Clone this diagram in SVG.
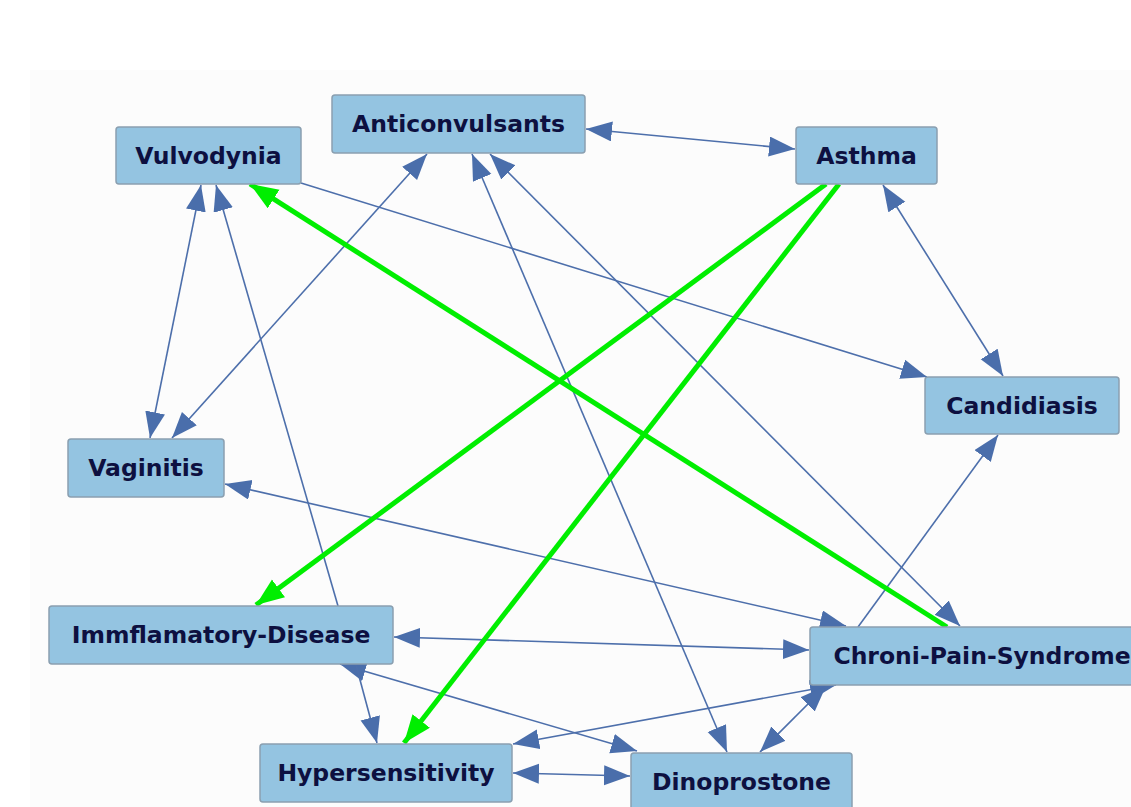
<svg xmlns="http://www.w3.org/2000/svg" width="1131" height="807" viewBox="0 0 1131 807">
  <style>
    .node rect { fill: #94c4e1; stroke: #8a9fb0; stroke-width: 1.5; }
    .node text { font-family: "DejaVu Sans", "Liberation Sans", sans-serif; font-weight: bold; font-size: 23.5px; fill: #0d1040; text-anchor: middle; dominant-baseline: central; }
    .edge { stroke: #4d6fab; stroke-width: 1.6; fill: none; }
    .both { marker-start: url(#head); marker-end: url(#head); }
    .one { marker-end: url(#head); }
    .hi { stroke: #00ee00; stroke-width: 5; fill: none; marker-end: url(#headGreen); }
  </style>
  <defs>
    <marker id="head" markerUnits="userSpaceOnUse" markerWidth="28" markerHeight="22" refX="26" refY="10" orient="auto-start-reverse">
      <path d="M0,0 L26,10 L0,20 Z" fill="#4a6eab"/>
    </marker>
    <marker id="headGreen" markerUnits="userSpaceOnUse" markerWidth="32" markerHeight="24" refX="28" refY="11" orient="auto">
      <path d="M0,0 L28,11 L0,22 Z" fill="#00ee00"/>
    </marker>
  </defs>

  <rect x="0" y="0" width="1131" height="807" fill="#ffffff"/>
  <rect x="30" y="70" width="1101" height="737" fill="#fcfcfc"/>

  <!-- connectors -->
  <g id="edges">
    <line class="edge both" x1="586" y1="129" x2="795" y2="149"/>
    <line class="edge both" x1="201" y1="185" x2="150" y2="438"/>
    <line class="edge one" x1="338" y1="606" x2="216" y2="185"/>
    <line class="edge one" x1="301" y1="183" x2="927" y2="377"/>
    <line class="edge both" x1="427" y1="154" x2="172" y2="438"/>
    <line class="edge both" x1="472" y1="154" x2="727" y2="752"/>
    <line class="edge both" x1="490" y1="154" x2="960" y2="626"/>
    <line class="edge both" x1="883" y1="185" x2="1003" y2="376"/>
    <line class="edge one" x1="858" y1="627" x2="998" y2="435"/>
    <line class="edge both" x1="225" y1="484" x2="846" y2="626"/>
    <line class="edge both" x1="394" y1="637" x2="809" y2="650"/>
    <line class="edge both" x1="340" y1="664" x2="637" y2="751"/>
    <line class="edge one" x1="356" y1="665" x2="377" y2="743"/>
    <line class="edge both" x1="513" y1="744" x2="836" y2="685"/>
    <line class="edge both" x1="513" y1="773" x2="630" y2="776"/>
    <line class="edge both" x1="826" y1="686" x2="760" y2="752"/>
    <line class="hi" x1="947" y1="627" x2="250" y2="184"/>
    <line class="hi" x1="826" y1="184" x2="256" y2="605"/>
    <line class="hi" x1="839" y1="184" x2="404" y2="743"/>
  </g>

  <!-- nodes -->
  <g id="vulvodynia" class="node">
    <rect x="116" y="127" width="185" height="57" rx="3"/>
    <text x="208.5" y="156">Vulvodynia</text>
  </g>
  <g id="anticonvulsants" class="node">
    <rect x="332" y="95" width="253" height="58" rx="3"/>
    <text x="458.5" y="124">Anticonvulsants</text>
  </g>
  <g id="asthma" class="node">
    <rect x="796" y="127" width="141" height="57" rx="3"/>
    <text x="866.5" y="156">Asthma</text>
  </g>
  <g id="candidiasis" class="node">
    <rect x="925" y="377" width="194" height="57" rx="3"/>
    <text x="1022" y="406">Candidiasis</text>
  </g>
  <g id="vaginitis" class="node">
    <rect x="68" y="439" width="156" height="58" rx="3"/>
    <text x="146" y="468">Vaginitis</text>
  </g>
  <g id="immflamatory-disease" class="node">
    <rect x="49" y="606" width="344" height="58" rx="3"/>
    <text x="221" y="635">Immflamatory-Disease</text>
  </g>
  <g id="chroni-pain-syndrome" class="node">
    <rect x="810" y="627" width="345" height="58" rx="3"/>
    <text x="982" y="656">Chroni-Pain-Syndrome</text>
  </g>
  <g id="hypersensitivity" class="node">
    <rect x="260" y="744" width="252" height="58" rx="3"/>
    <text x="386" y="773">Hypersensitivity</text>
  </g>
  <g id="dinoprostone" class="node">
    <rect x="631" y="753" width="221" height="58" rx="3"/>
    <text x="741.5" y="782">Dinoprostone</text>
  </g>
</svg>
